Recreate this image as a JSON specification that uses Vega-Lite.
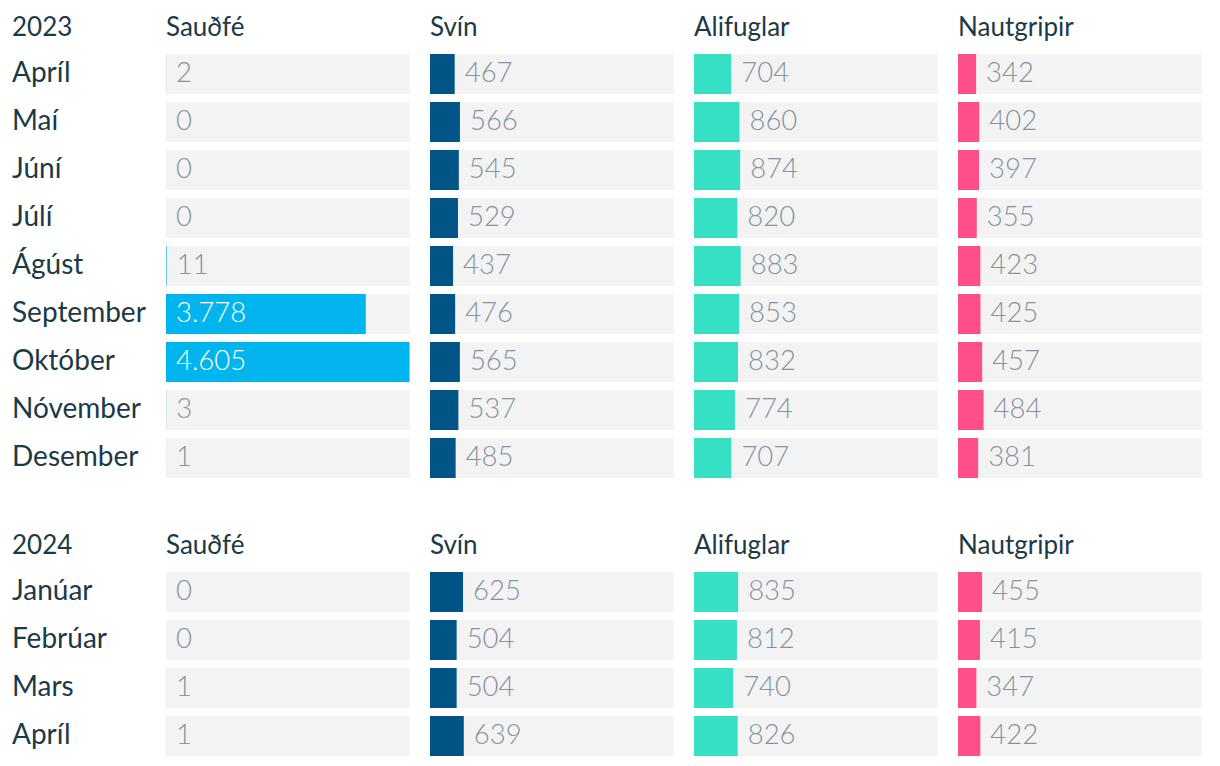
{
  "$schema": "https://vega.github.io/schema/vega-lite/v6.json",
  "padding": {"left": 12, "top": 15, "right": 0, "bottom": 0},
  "background": "white",
  "config": {
    "font": "Lato",
    "view": {"stroke": null},
    "concat": {"spacing": 20},
    "locale": {"number": {"decimal": ",", "thousands": ".", "grouping": [3], "currency": ["", " kr."]}},
    "title": {"anchor": "start", "fontSize": 26, "fontWeight": "normal", "color": "#1b3a46", "baseline": "alphabetic", "offset": 9, "font": "Lato"},
    "text": {"font": "Lato Light, Lato"}
  },
  "datasets": {
    "d": [
      {"year": 2023, "month": "Apríl", "animal": "Sauðfé", "value": 2},
      {"year": 2023, "month": "Maí", "animal": "Sauðfé", "value": 0},
      {"year": 2023, "month": "Júní", "animal": "Sauðfé", "value": 0},
      {"year": 2023, "month": "Júlí", "animal": "Sauðfé", "value": 0},
      {"year": 2023, "month": "Ágúst", "animal": "Sauðfé", "value": 11},
      {"year": 2023, "month": "September", "animal": "Sauðfé", "value": 3778},
      {"year": 2023, "month": "Október", "animal": "Sauðfé", "value": 4605},
      {"year": 2023, "month": "Nóvember", "animal": "Sauðfé", "value": 3},
      {"year": 2023, "month": "Desember", "animal": "Sauðfé", "value": 1},
      {"year": 2023, "month": "Apríl", "animal": "Svín", "value": 467},
      {"year": 2023, "month": "Maí", "animal": "Svín", "value": 566},
      {"year": 2023, "month": "Júní", "animal": "Svín", "value": 545},
      {"year": 2023, "month": "Júlí", "animal": "Svín", "value": 529},
      {"year": 2023, "month": "Ágúst", "animal": "Svín", "value": 437},
      {"year": 2023, "month": "September", "animal": "Svín", "value": 476},
      {"year": 2023, "month": "Október", "animal": "Svín", "value": 565},
      {"year": 2023, "month": "Nóvember", "animal": "Svín", "value": 537},
      {"year": 2023, "month": "Desember", "animal": "Svín", "value": 485},
      {"year": 2023, "month": "Apríl", "animal": "Alifuglar", "value": 704},
      {"year": 2023, "month": "Maí", "animal": "Alifuglar", "value": 860},
      {"year": 2023, "month": "Júní", "animal": "Alifuglar", "value": 874},
      {"year": 2023, "month": "Júlí", "animal": "Alifuglar", "value": 820},
      {"year": 2023, "month": "Ágúst", "animal": "Alifuglar", "value": 883},
      {"year": 2023, "month": "September", "animal": "Alifuglar", "value": 853},
      {"year": 2023, "month": "Október", "animal": "Alifuglar", "value": 832},
      {"year": 2023, "month": "Nóvember", "animal": "Alifuglar", "value": 774},
      {"year": 2023, "month": "Desember", "animal": "Alifuglar", "value": 707},
      {"year": 2023, "month": "Apríl", "animal": "Nautgripir", "value": 342},
      {"year": 2023, "month": "Maí", "animal": "Nautgripir", "value": 402},
      {"year": 2023, "month": "Júní", "animal": "Nautgripir", "value": 397},
      {"year": 2023, "month": "Júlí", "animal": "Nautgripir", "value": 355},
      {"year": 2023, "month": "Ágúst", "animal": "Nautgripir", "value": 423},
      {"year": 2023, "month": "September", "animal": "Nautgripir", "value": 425},
      {"year": 2023, "month": "Október", "animal": "Nautgripir", "value": 457},
      {"year": 2023, "month": "Nóvember", "animal": "Nautgripir", "value": 484},
      {"year": 2023, "month": "Desember", "animal": "Nautgripir", "value": 381},
      {"year": 2024, "month": "Janúar", "animal": "Sauðfé", "value": 0},
      {"year": 2024, "month": "Febrúar", "animal": "Sauðfé", "value": 0},
      {"year": 2024, "month": "Mars", "animal": "Sauðfé", "value": 1},
      {"year": 2024, "month": "Apríl", "animal": "Sauðfé", "value": 1},
      {"year": 2024, "month": "Janúar", "animal": "Svín", "value": 625},
      {"year": 2024, "month": "Febrúar", "animal": "Svín", "value": 504},
      {"year": 2024, "month": "Mars", "animal": "Svín", "value": 504},
      {"year": 2024, "month": "Apríl", "animal": "Svín", "value": 639},
      {"year": 2024, "month": "Janúar", "animal": "Alifuglar", "value": 835},
      {"year": 2024, "month": "Febrúar", "animal": "Alifuglar", "value": 812},
      {"year": 2024, "month": "Mars", "animal": "Alifuglar", "value": 740},
      {"year": 2024, "month": "Apríl", "animal": "Alifuglar", "value": 826},
      {"year": 2024, "month": "Janúar", "animal": "Nautgripir", "value": 455},
      {"year": 2024, "month": "Febrúar", "animal": "Nautgripir", "value": 415},
      {"year": 2024, "month": "Mars", "animal": "Nautgripir", "value": 347},
      {"year": 2024, "month": "Apríl", "animal": "Nautgripir", "value": 422}
    ]
  },
  "data": {"name": "d"},
  "spacing": 51,
  "vconcat": [
    {
      "hconcat": [
        {
          "title": "2023", "width": 134, "height": 432,
          "transform": [{"filter": "datum.year == 2023 && datum.animal == 'Sauðfé'"}],
          "mark": {"type": "text", "align": "left", "fontSize": 28, "font": "Lato", "color": "#1b3a46"},
          "encoding": {
            "y": {"field": "month", "type": "nominal", "sort": null, "axis": null, "scale": {"paddingInner": 0.1667, "paddingOuter": 0.0833}},
            "x": {"value": 0},
            "text": {"field": "month"}
          }
        },
        {
          "title": "Sauðfé", "width": 243.5, "height": 432,
          "transform": [{"filter": "datum.year == 2023 && datum.animal == 'Sauðfé'"}],
          "encoding": {"y": {"field": "month", "type": "nominal", "sort": null, "axis": null, "scale": {"paddingInner": 0.1667, "paddingOuter": 0.0833}}},
          "layer": [
            {"mark": {"type": "bar", "color": "#f3f3f3"}, "encoding": {"x": {"datum": 0, "type": "quantitative", "scale": {"domain": [0, 4605], "nice": false, "zero": true}, "axis": null}, "x2": {"datum": 4605}}},
            {"mark": {"type": "bar", "color": "#00b5ee"}, "encoding": {"x": {"field": "value", "type": "quantitative"}}},
            {"transform": [{"filter": "datum.value < 2000"}], "mark": {"type": "text", "align": "left", "dx": 10, "fontSize": 27.5, "fontWeight": 300, "color": "#84959e"}, "encoding": {"x": {"field": "value", "type": "quantitative"}, "text": {"field": "value", "type": "quantitative", "format": ",d"}}},
            {"transform": [{"filter": "datum.value >= 2000"}], "mark": {"type": "text", "align": "left", "dx": 10, "fontSize": 27.5, "fontWeight": 300, "color": "white"}, "encoding": {"x": {"datum": 0, "type": "quantitative"}, "text": {"field": "value", "type": "quantitative", "format": ",d"}}}
          ]
        },
        {
          "title": "Svín", "width": 243.5, "height": 432,
          "transform": [{"filter": "datum.year == 2023 && datum.animal == 'Svín'"}],
          "encoding": {"y": {"field": "month", "type": "nominal", "sort": null, "axis": null, "scale": {"paddingInner": 0.1667, "paddingOuter": 0.0833}}},
          "layer": [
            {"mark": {"type": "bar", "color": "#f3f3f3"}, "encoding": {"x": {"datum": 0, "type": "quantitative", "scale": {"domain": [0, 4605], "nice": false, "zero": true}, "axis": null}, "x2": {"datum": 4605}}},
            {"mark": {"type": "bar", "color": "#005486"}, "encoding": {"x": {"field": "value", "type": "quantitative"}}},
            {"mark": {"type": "text", "align": "left", "dx": 10, "fontSize": 27.5, "fontWeight": 300, "color": "#84959e"}, "encoding": {"x": {"field": "value", "type": "quantitative"}, "text": {"field": "value", "type": "quantitative", "format": ",d"}}}
          ]
        },
        {
          "title": "Alifuglar", "width": 243.5, "height": 432,
          "transform": [{"filter": "datum.year == 2023 && datum.animal == 'Alifuglar'"}],
          "encoding": {"y": {"field": "month", "type": "nominal", "sort": null, "axis": null, "scale": {"paddingInner": 0.1667, "paddingOuter": 0.0833}}},
          "layer": [
            {"mark": {"type": "bar", "color": "#f3f3f3"}, "encoding": {"x": {"datum": 0, "type": "quantitative", "scale": {"domain": [0, 4605], "nice": false, "zero": true}, "axis": null}, "x2": {"datum": 4605}}},
            {"mark": {"type": "bar", "color": "#36e0c5"}, "encoding": {"x": {"field": "value", "type": "quantitative"}}},
            {"mark": {"type": "text", "align": "left", "dx": 10, "fontSize": 27.5, "fontWeight": 300, "color": "#84959e"}, "encoding": {"x": {"field": "value", "type": "quantitative"}, "text": {"field": "value", "type": "quantitative", "format": ",d"}}}
          ]
        },
        {
          "title": "Nautgripir", "width": 243.5, "height": 432,
          "transform": [{"filter": "datum.year == 2023 && datum.animal == 'Nautgripir'"}],
          "encoding": {"y": {"field": "month", "type": "nominal", "sort": null, "axis": null, "scale": {"paddingInner": 0.1667, "paddingOuter": 0.0833}}},
          "layer": [
            {"mark": {"type": "bar", "color": "#f3f3f3"}, "encoding": {"x": {"datum": 0, "type": "quantitative", "scale": {"domain": [0, 4605], "nice": false, "zero": true}, "axis": null}, "x2": {"datum": 4605}}},
            {"mark": {"type": "bar", "color": "#ff4f8a"}, "encoding": {"x": {"field": "value", "type": "quantitative"}}},
            {"mark": {"type": "text", "align": "left", "dx": 10, "fontSize": 27.5, "fontWeight": 300, "color": "#84959e"}, "encoding": {"x": {"field": "value", "type": "quantitative"}, "text": {"field": "value", "type": "quantitative", "format": ",d"}}}
          ]
        }
      ]
    },
    {
      "hconcat": [
        {
          "title": "2024", "width": 134, "height": 192,
          "transform": [{"filter": "datum.year == 2024 && datum.animal == 'Sauðfé'"}],
          "mark": {"type": "text", "align": "left", "fontSize": 28, "font": "Lato", "color": "#1b3a46"},
          "encoding": {
            "y": {"field": "month", "type": "nominal", "sort": null, "axis": null, "scale": {"paddingInner": 0.1667, "paddingOuter": 0.0833}},
            "x": {"value": 0},
            "text": {"field": "month"}
          }
        },
        {
          "title": "Sauðfé", "width": 243.5, "height": 192,
          "transform": [{"filter": "datum.year == 2024 && datum.animal == 'Sauðfé'"}],
          "encoding": {"y": {"field": "month", "type": "nominal", "sort": null, "axis": null, "scale": {"paddingInner": 0.1667, "paddingOuter": 0.0833}}},
          "layer": [
            {"mark": {"type": "bar", "color": "#f3f3f3"}, "encoding": {"x": {"datum": 0, "type": "quantitative", "scale": {"domain": [0, 4605], "nice": false, "zero": true}, "axis": null}, "x2": {"datum": 4605}}},
            {"mark": {"type": "bar", "color": "#00b5ee"}, "encoding": {"x": {"field": "value", "type": "quantitative"}}},
            {"mark": {"type": "text", "align": "left", "dx": 10, "fontSize": 27.5, "fontWeight": 300, "color": "#84959e"}, "encoding": {"x": {"field": "value", "type": "quantitative"}, "text": {"field": "value", "type": "quantitative", "format": ",d"}}}
          ]
        },
        {
          "title": "Svín", "width": 243.5, "height": 192,
          "transform": [{"filter": "datum.year == 2024 && datum.animal == 'Svín'"}],
          "encoding": {"y": {"field": "month", "type": "nominal", "sort": null, "axis": null, "scale": {"paddingInner": 0.1667, "paddingOuter": 0.0833}}},
          "layer": [
            {"mark": {"type": "bar", "color": "#f3f3f3"}, "encoding": {"x": {"datum": 0, "type": "quantitative", "scale": {"domain": [0, 4605], "nice": false, "zero": true}, "axis": null}, "x2": {"datum": 4605}}},
            {"mark": {"type": "bar", "color": "#005486"}, "encoding": {"x": {"field": "value", "type": "quantitative"}}},
            {"mark": {"type": "text", "align": "left", "dx": 10, "fontSize": 27.5, "fontWeight": 300, "color": "#84959e"}, "encoding": {"x": {"field": "value", "type": "quantitative"}, "text": {"field": "value", "type": "quantitative", "format": ",d"}}}
          ]
        },
        {
          "title": "Alifuglar", "width": 243.5, "height": 192,
          "transform": [{"filter": "datum.year == 2024 && datum.animal == 'Alifuglar'"}],
          "encoding": {"y": {"field": "month", "type": "nominal", "sort": null, "axis": null, "scale": {"paddingInner": 0.1667, "paddingOuter": 0.0833}}},
          "layer": [
            {"mark": {"type": "bar", "color": "#f3f3f3"}, "encoding": {"x": {"datum": 0, "type": "quantitative", "scale": {"domain": [0, 4605], "nice": false, "zero": true}, "axis": null}, "x2": {"datum": 4605}}},
            {"mark": {"type": "bar", "color": "#36e0c5"}, "encoding": {"x": {"field": "value", "type": "quantitative"}}},
            {"mark": {"type": "text", "align": "left", "dx": 10, "fontSize": 27.5, "fontWeight": 300, "color": "#84959e"}, "encoding": {"x": {"field": "value", "type": "quantitative"}, "text": {"field": "value", "type": "quantitative", "format": ",d"}}}
          ]
        },
        {
          "title": "Nautgripir", "width": 243.5, "height": 192,
          "transform": [{"filter": "datum.year == 2024 && datum.animal == 'Nautgripir'"}],
          "encoding": {"y": {"field": "month", "type": "nominal", "sort": null, "axis": null, "scale": {"paddingInner": 0.1667, "paddingOuter": 0.0833}}},
          "layer": [
            {"mark": {"type": "bar", "color": "#f3f3f3"}, "encoding": {"x": {"datum": 0, "type": "quantitative", "scale": {"domain": [0, 4605], "nice": false, "zero": true}, "axis": null}, "x2": {"datum": 4605}}},
            {"mark": {"type": "bar", "color": "#ff4f8a"}, "encoding": {"x": {"field": "value", "type": "quantitative"}}},
            {"mark": {"type": "text", "align": "left", "dx": 10, "fontSize": 27.5, "fontWeight": 300, "color": "#84959e"}, "encoding": {"x": {"field": "value", "type": "quantitative"}, "text": {"field": "value", "type": "quantitative", "format": ",d"}}}
          ]
        }
      ]
    }
  ]
}
